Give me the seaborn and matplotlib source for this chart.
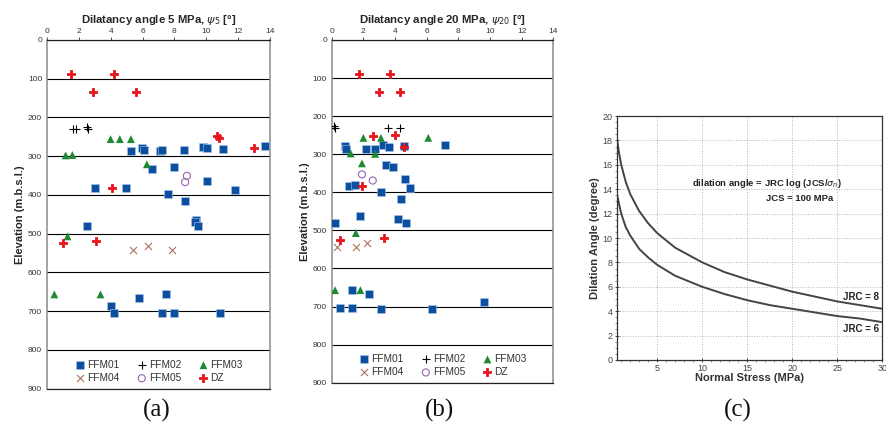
import numpy as np
import pandas as pd
import matplotlib
matplotlib.use('Agg')
import matplotlib.pyplot as plt
from matplotlib.ticker import MultipleLocator
import seaborn as sns

# ---------------- Panel (a): dilatancy angle at 5 MPa ----------------
a_ffm01_x = [5.27, 5.98, 6.12, 7.08, 7.21, 8.61, 9.78, 10.07, 11.05, 13.67, 6.58, 7.96, 2.99, 4.97,
             10.07, 7.60, 11.79, 8.69, 9.36, 9.28, 9.49, 2.48, 3.99, 4.18, 5.77, 7.48, 7.19, 7.96, 10.89]
a_ffm01_y = [286, 279, 285, 286, 284, 284, 276, 280, 282, 273, 333, 327, 383, 381,
             363, 397, 387, 416, 464, 469, 480, 481, 687, 704, 667, 656, 706, 706, 704]
a_ffm02_x = [1.61, 1.84, 2.53, 2.59]
a_ffm02_y = [230, 230, 224, 230]
a_ffm03_x = [3.99, 4.57, 5.27, 1.17, 1.59, 6.27, 1.29, 0.46, 3.36]
a_ffm03_y = [256, 256, 256, 298, 297, 321, 507, 657, 657]
a_ffm04_x = [5.37, 6.37, 7.87]
a_ffm04_y = [542, 531, 542]
a_ffm05_x = [8.78, 8.67]
a_ffm05_y = [351, 367]
a_dz_x = [1.48, 4.18, 2.86, 5.58, 10.68, 10.80, 12.98, 4.05, 0.98, 3.09]
a_dz_y = [89, 88, 135, 135, 248, 252, 279, 383, 524, 518]

# ---------------- Panel (b): dilatancy angle at 20 MPa ----------------
b_ffm01_x = [0.85, 0.90, 2.19, 2.71, 3.22, 3.60, 4.59, 7.18, 3.43, 3.87, 4.61, 4.93, 1.09, 1.47,
             3.11, 4.38, 0.19, 1.81, 4.21, 4.71, 1.30, 2.38, 0.50, 1.30, 3.11, 6.32, 9.60]
b_ffm01_y = [278, 287, 286, 285, 277, 282, 278, 276, 328, 334, 364, 389, 384, 382,
             399, 417, 480, 463, 470, 480, 657, 668, 703, 703, 706, 706, 687]
b_ffm02_x = [0.17, 0.23, 3.54, 4.31]
b_ffm02_y = [225, 231, 230, 230]
b_ffm03_x = [2.00, 3.11, 6.10, 1.20, 2.74, 1.91, 1.52, 0.21, 1.81]
b_ffm03_y = [257, 257, 257, 298, 299, 324, 507, 657, 657]
b_ffm04_x = [0.31, 1.52, 2.21]
b_ffm04_y = [544, 544, 532]
b_ffm05_x = [1.91, 2.59]
b_ffm05_y = [353, 369]
b_dz_x = [1.72, 3.70, 3.01, 4.31, 2.59, 4.00, 4.59, 1.91, 0.52, 3.30]
b_dz_y = [89, 89, 136, 136, 252, 249, 281, 384, 525, 519]

# ---------------- Panel (c): dilation angle vs normal stress ----------------
c_stress = [0.5, 0.75, 1, 1.5, 2, 3, 4, 5, 7, 10, 12.5, 15, 17.5, 20, 22.5, 25, 27.5, 30]
c_jrc8 = [18.3, 17.0, 16.0, 14.6, 13.6, 12.2, 11.2, 10.4, 9.2, 8.0, 7.2, 6.6, 6.1, 5.6, 5.2, 4.8, 4.5, 4.2]
c_jrc6 = [13.7, 12.8, 12.0, 10.9, 10.2, 9.1, 8.4, 7.8, 6.9, 6.0, 5.4, 4.9, 4.5, 4.2, 3.9, 3.6, 3.4, 3.1]

x_ticks = [0, 2, 4, 6, 8, 10, 12, 14]
y_ticks = [0, 100, 200, 300, 400, 500, 600, 700, 800, 900]

sns.set_style('white')
plt.rcParams['font.family'] = ['Liberation Sans', 'DejaVu Sans']
plt.rcParams['mathtext.fontset'] = 'dejavusans'

fig = plt.figure(figsize=(8.87, 4.30), dpi=100)
ax_a = fig.add_axes([0.0530, 0.0965, 0.2514, 0.8105])
ax_b = fig.add_axes([0.3740, 0.1100, 0.2498, 0.7970])
ax_c = fig.add_axes([0.6953, 0.1628, 0.2994, 0.5674])

C_BLUE = '#0d4f9f'
C_GREEN = '#1f8a32'
C_RED = '#e8141c'
C_BROWN = '#b0705c'
C_PURPLE = '#9565ad'


def draw_profile(ax, d, title, legend_anchor):
    (f1x, f1y, f2x, f2y, f3x, f3y, f4x, f4y, f5x, f5y, dzx, dzy) = d
    sns.scatterplot(x=f1x, y=f1y, ax=ax, marker='s', s=30, color=C_BLUE,
                    edgecolor='#a8c8ea', linewidth=0.4, label='FFM01', zorder=3)
    sns.scatterplot(x=f2x, y=f2y, ax=ax, marker='+', s=34, color='black',
                    linewidth=0.8, label='FFM02', zorder=3)
    sns.scatterplot(x=f3x, y=f3y, ax=ax, marker='^', s=32, color=C_GREEN,
                    edgecolor='none', linewidth=0, label='FFM03', zorder=3)
    sns.scatterplot(x=f4x, y=f4y, ax=ax, marker='x', s=26, color=C_BROWN,
                    linewidth=0.8, label='FFM04', zorder=3)
    sns.scatterplot(x=f5x, y=f5y, ax=ax, marker='o', s=26, facecolor='none',
                    edgecolor=C_PURPLE, linewidth=0.8, label='FFM05', zorder=3)
    sns.scatterplot(x=dzx, y=dzy, ax=ax, marker='P', s=26, color=C_RED,
                    edgecolor=C_RED, linewidth=0.6, label='DZ', zorder=4)
    ax.set_xlim(0, 14)
    ax.set_ylim(900, 0)
    ax.xaxis.tick_top()
    ax.set_xticks(x_ticks)
    ax.set_yticks(y_ticks)
    ax.tick_params(labelsize=6, colors='#333333', length=2, width=0.6, pad=1.5)
    ax.grid(False)
    ax.grid(axis='y', color='black', lw=0.8)
    ax.set_axisbelow(True)
    for side in ['left', 'right']:
        ax.spines[side].set_color('#8a8a8a')
        ax.spines[side].set_linewidth(1.1)
    for side in ['top', 'bottom']:
        ax.spines[side].set_color('#222222')
        ax.spines[side].set_linewidth(0.9)
    ax.set_title(title, fontsize=8.2, fontweight='bold', pad=12)
    ax.set_ylabel('Elevation (m.b.s.l.)', fontsize=8, fontweight='bold', labelpad=2)
    ax.set_xlabel('')
    h, l = ax.get_legend_handles_labels()
    order = [0, 3, 1, 4, 2, 5]
    ax.legend([h[i] for i in order], [l[i] for i in order], ncol=3, frameon=False,
              loc='lower center', bbox_to_anchor=legend_anchor, fontsize=7.3,
              handletextpad=0.1, columnspacing=1.6, labelspacing=0.3,
              borderaxespad=0.15, handlelength=1.2, labelcolor='#333333')


draw_profile(ax_a, (a_ffm01_x, a_ffm01_y, a_ffm02_x, a_ffm02_y, a_ffm03_x, a_ffm03_y,
                    a_ffm04_x, a_ffm04_y, a_ffm05_x, a_ffm05_y, a_dz_x, a_dz_y),
             r'Dilatancy angle 5 MPa, $\psi_{5}$ [°]', (0.5, 0.0))
draw_profile(ax_b, (b_ffm01_x, b_ffm01_y, b_ffm02_x, b_ffm02_y, b_ffm03_x, b_ffm03_y,
                    b_ffm04_x, b_ffm04_y, b_ffm05_x, b_ffm05_y, b_dz_x, b_dz_y),
             r'Dilatancy angle 20 MPa, $\psi_{20}$ [°]', (0.5, 0.0))

# Panel (c)
sns.lineplot(x=c_stress, y=c_jrc8, ax=ax_c, color='#444444', lw=1.4)
sns.lineplot(x=c_stress, y=c_jrc6, ax=ax_c, color='#444444', lw=1.4)
ax_c.set_xlim(0.5, 30)
ax_c.set_ylim(0, 20)
ax_c.set_xticks([5, 10, 15, 20, 25, 30])
ax_c.set_yticks(list(range(0, 21, 2)))
ax_c.xaxis.set_minor_locator(MultipleLocator(1))
ax_c.yaxis.set_minor_locator(MultipleLocator(0.5))
ax_c.grid(True, which='major', ls=':', color='#b5b5b5', lw=0.7)
ax_c.tick_params(which='major', labelsize=6.5, colors='#444444', length=3, width=0.7,
                 direction='inout', pad=1.5)
ax_c.tick_params(which='minor', length=1.5, width=0.5, color='#666666', direction='out')
ax_c.tick_params(left=True, bottom=True, which='both')
for s in ax_c.spines.values():
    s.set_color('#333333')
    s.set_linewidth(0.9)
ax_c.set_xlabel('Normal Stress (MPa)', fontsize=8, fontweight='bold', color='#333333', labelpad=0)
ax_c.set_ylabel('Dilation Angle (degree)', fontsize=8, fontweight='bold', color='#333333', labelpad=2)
ax_c.text(17.2, 14.5, r'dilation angle = JRC log (JCS/$\sigma_n$)', fontsize=6.8, fontweight='bold',
          ha='center', va='center', color='#222222')
ax_c.text(20.8, 13.2, 'JCS = 100 MPa', fontsize=6.8, fontweight='bold',
          ha='center', va='center', color='#222222')
ax_c.text(29.6, 5.2, 'JRC = 8', fontsize=7, fontweight='bold', ha='right', va='center', color='#222222')
ax_c.text(29.6, 2.5, 'JRC = 6', fontsize=7, fontweight='bold', ha='right', va='center', color='#222222')

# Panel labels
for xf, lab in [(157 / 887, '(a)'), (440 / 887, '(b)'), (738 / 887, '(c)')]:
    fig.text(xf, 1 - 410 / 430, lab, fontsize=18, family='Liberation Serif',
             ha='center', va='center', color='#111111')

fig.savefig('out.png', dpi=100)
